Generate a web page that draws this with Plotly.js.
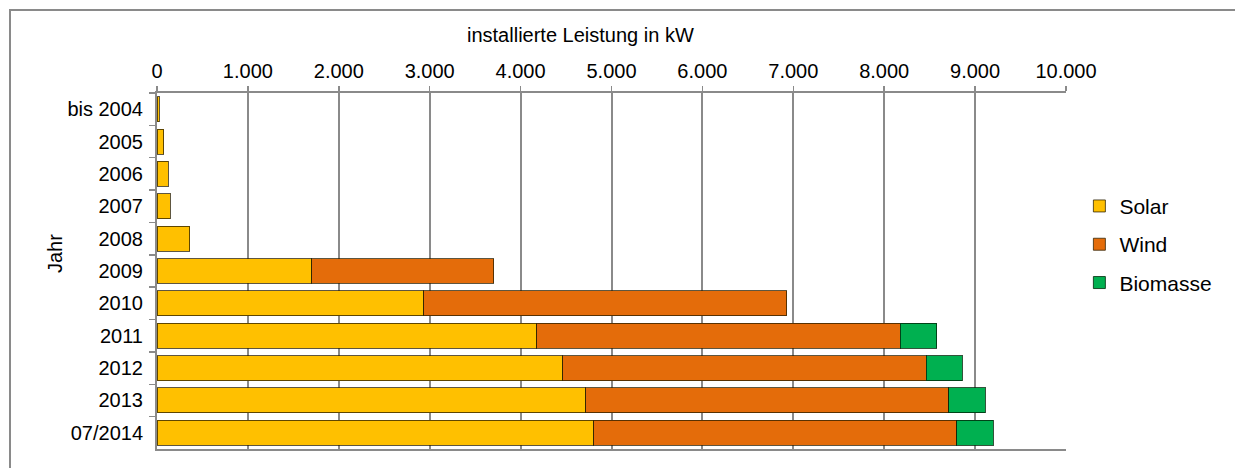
<!DOCTYPE html>
<html>
<head>
<meta charset="utf-8">
<script src="https://cdn.plot.ly/plotly-3.0.1.min.js"></script>
<style>
  html, body { margin: 0; padding: 0; overflow: hidden; background: #fff; }
  #frame { position: absolute; left: 9px; top: 9px; width: 1240px; height: 480px; border-left: 2px solid #8a8a8a; border-top: 2px solid #8a8a8a; pointer-events: none; z-index: 5; }
  #chart { position: absolute; left: 0; top: 0; width: 1235px; height: 468px; }
</style>
</head>
<body>
<div id="chart"></div>
<div id="frame"></div>
<script>
const years = ["bis 2004", "2005", "2006", "2007", "2008", "2009", "2010", "2011", "2012", "2013", "07/2014"];
const solar = [25, 74, 125, 147, 359, 1703, 2934, 4180, 4462, 4718, 4802];
const wind = [null, null, null, null, null, 2000, 3993, 3996, 4000, 3993, 3994];
const biomasse = [null, null, null, null, null, null, null, 400, 395, 403, 406];
const xTicks = [0, 1000, 2000, 3000, 4000, 5000, 6000, 7000, 8000, 9000, 10000];

const FONT = "Liberation Sans, Arial, sans-serif";
const line = {color: "rgba(40,30,0,0.75)", width: 1};

const traces = [
  {type: "bar", orientation: "h", name: "Solar", y: years, x: solar, legendgroup: "a",
   marker: {color: "#FFC000", line: line}},
  {type: "bar", orientation: "h", name: "Wind", y: years, x: wind, legendgroup: "b",
   marker: {color: "#E46C0A", line: line}},
  {type: "bar", orientation: "h", name: "Biomasse", y: years, x: biomasse, legendgroup: "c",
   marker: {color: "#00B050", line: {color: "rgba(0,40,10,0.8)", width: 1}}}
];

const layout = {
  width: 1235, height: 468,
  margin: {l: 157, r: 169, t: 93, b: 19, pad: 0},
  paper_bgcolor: "#fff", plot_bgcolor: "#fff",
  barmode: "stack", bargap: 0.23,
  separators: ",.",
  font: {family: FONT, size: 20, color: "#000"},
  showlegend: true,
  legend: {xref: "container", yref: "container", x: 0.874, xanchor: "left", y: 0.478, yanchor: "middle",
           font: {family: FONT, size: 21, color: "#000"}, tracegroupgap: 8,
           itemwidth: 30, bgcolor: "rgba(0,0,0,0)"},
  xaxis: {side: "top", range: [0, 10000], tickvals: xTicks, tickformat: ",d",
          showgrid: true, gridcolor: "#8a8a8a", gridwidth: 2,
          showline: true, linecolor: "#8a8a8a", linewidth: 2, mirror: true,
          ticks: "outside", ticklen: 5, tickcolor: "#8a8a8a", tickwidth: 1.5,
          tickfont: {family: FONT, size: 20, color: "#000"}, zeroline: false,
          fixedrange: true},
  yaxis: {type: "category", autorange: "reversed", tickson: "boundaries",
          showline: true, linecolor: "#8a8a8a", linewidth: 2,
          ticks: "outside", ticklen: 6, tickcolor: "#8a8a8a", tickwidth: 1.5,
          showgrid: false, tickfont: {family: FONT, size: 20, color: "#000"},
          ticklabelstandoff: 8, fixedrange: true},
  annotations: [
    {text: "installierte Leistung in kW", xref: "paper", yref: "paper",
     x: 0.466, y: 1.163, xanchor: "center", yanchor: "middle", showarrow: false,
     font: {family: FONT, size: 20, color: "#000"}},
    {text: "Jahr", xref: "paper", yref: "paper", textangle: -90,
     x: -0.112, y: 0.548, xanchor: "center", yanchor: "middle", showarrow: false,
     font: {family: FONT, size: 20, color: "#000"}}
  ]
};

Plotly.newPlot("chart", traces, layout, {displayModeBar: false, staticPlot: true});
</script>
</body>
</html>
